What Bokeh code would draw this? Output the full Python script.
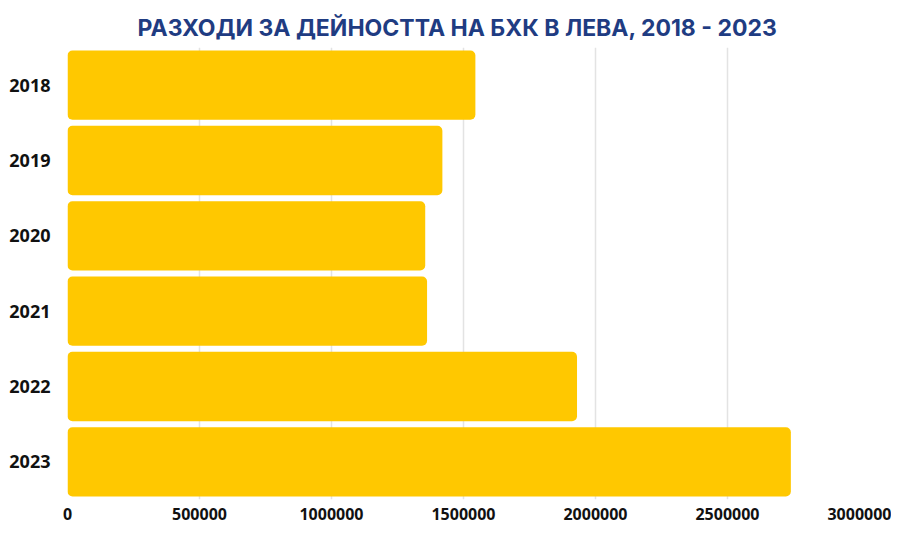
from bokeh.plotting import figure
from bokeh.models import Range1d, FactorRange, NumeralTickFormatter, FixedTicker, ColumnDataSource
from bokeh.embed import file_html
from bokeh.resources import INLINE

years = ["2018", "2019", "2020", "2021", "2022", "2023"]
expenses = [1545000, 1420000, 1355000, 1362000, 1930000, 2740000]
x_ticks = [0, 500000, 1000000, 1500000, 2000000, 2500000, 3000000]
title_text = "РАЗХОДИ ЗА ДЕЙНОСТТА НА БХК В ЛЕВА, 2018 - 2023"

source = ColumnDataSource(dict(year=years, value=expenses))

p = figure(
    frame_width=792, frame_height=452,
    y_range=FactorRange(factors=list(reversed(years)), range_padding=0),
    x_range=Range1d(0, 3000000),
    output_backend="svg", toolbar_location=None,
    min_border_left=67, min_border_right=32, min_border_top=47, min_border_bottom=26,
)
p.title.text = title_text
p.title.align = "left"
p.title.text_font = "Inter"
p.title.text_font_style = "bold"
p.title.text_font_size = "23px"
p.title.text_color = "#1f3c82"
p.title.offset = 70
p.title.standoff = 11

p.hbar(y="year", right="value", left=0, height=0.92, source=source,
       fill_color="#ffc800", line_color=None, border_radius=5)

p.xaxis.ticker = FixedTicker(ticks=x_ticks)
p.xaxis.formatter = NumeralTickFormatter(format="0")
for ax in (p.xaxis, p.yaxis):
    ax.axis_line_color = None
    ax.major_tick_line_color = None
    ax.minor_tick_line_color = None
    ax.major_label_text_font = "Open Sans"
    ax.major_label_text_font_style = "bold"
    ax.major_label_text_color = "#111111"
p.yaxis.major_label_text_font_size = "18px"
p.xaxis.major_label_text_font_size = "16px"
p.xaxis.major_label_standoff = 2
p.yaxis.major_label_standoff = 11

p.ygrid.grid_line_color = None
p.xgrid.grid_line_color = "#e3e3e3"
p.xgrid.grid_line_width = 1.5
p.outline_line_color = None

open("out.html", "w").write(file_html(p, INLINE))
